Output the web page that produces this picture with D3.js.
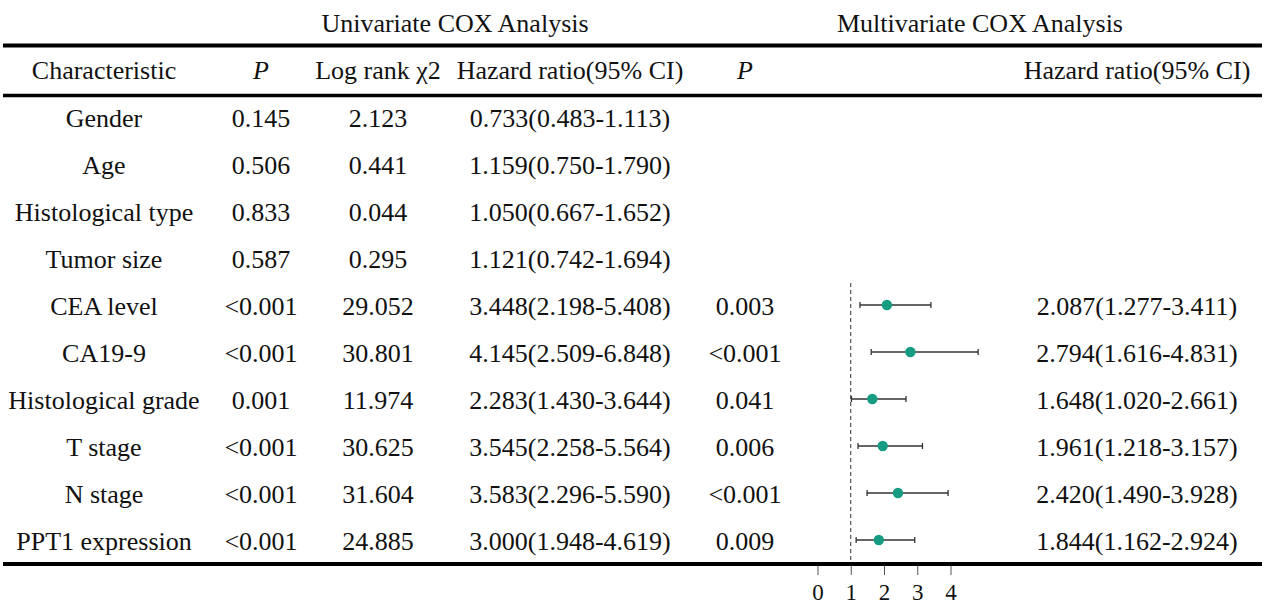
<!DOCTYPE html>
<html>
<head>
<meta charset="utf-8">
<script src="https://cdn.jsdelivr.net/npm/d3@7"></script>
<style>
  body { margin: 0; background: #fff; }
  text { font-family: "Liberation Serif", "Times New Roman", serif; fill: #111; }
</style>
</head>
<body>
<svg id="chart" width="1270" height="610"></svg>
<script>
// table data
var characteristics = ["Gender", "Age", "Histological type", "Tumor size", "CEA level",
  "CA19-9", "Histological grade", "T stage", "N stage", "PPT1 expression"];
var uniP = ["0.145", "0.506", "0.833", "0.587", "<0.001", "<0.001", "0.001", "<0.001", "<0.001", "<0.001"];
var logRank = ["2.123", "0.441", "0.044", "0.295", "29.052", "30.801", "11.974", "30.625", "31.604", "24.885"];
var uniHR = [0.733, 1.159, 1.050, 1.121, 3.448, 4.145, 2.283, 3.545, 3.583, 3.000];
var uniLo = [0.483, 0.750, 0.667, 0.742, 2.198, 2.509, 1.430, 2.258, 2.296, 1.948];
var uniHi = [1.113, 1.790, 1.652, 1.694, 5.408, 6.848, 3.644, 5.564, 5.590, 4.619];
var multiP = [null, null, null, null, "0.003", "<0.001", "0.041", "0.006", "<0.001", "0.009"];
var multiHR = [null, null, null, null, 2.087, 2.794, 1.648, 1.961, 2.420, 1.844];
var multiLo = [null, null, null, null, 1.277, 1.616, 1.020, 1.218, 1.490, 1.162];
var multiHi = [null, null, null, null, 3.411, 4.831, 2.661, 3.157, 3.928, 2.924];
var axisTicks = [0, 1, 2, 3, 4];

var svg = d3.select("#chart");
var fontSize = 26;

var fmt = d3.format(".3f");
function hrText(h, l, u) { return fmt(h) + "(" + fmt(l) + "-" + fmt(u) + ")"; }

var y = d3.scalePoint()
  .domain(characteristics)
  .range([118, 541]);

var x = d3.scaleLinear()
  .domain([0, 4])
  .range([817.5, 950.5]);

// column centers
var col = { ch: 104, p: 261, lr: 378, hr: 570, mp: 745, mhr: 1137 };

// titles
svg.append("text").attr("x", 455).attr("y", 32).attr("text-anchor", "middle")
  .attr("font-size", fontSize).text("Univariate COX Analysis");
svg.append("text").attr("x", 980).attr("y", 32).attr("text-anchor", "middle")
  .attr("font-size", fontSize).text("Multivariate COX Analysis");

// rules
svg.append("line").attr("x1", 3).attr("x2", 1262).attr("y1", 45.5).attr("y2", 45.5)
  .attr("stroke", "#000").attr("stroke-width", 4);
svg.append("line").attr("x1", 3).attr("x2", 1262).attr("y1", 95.5).attr("y2", 95.5)
  .attr("stroke", "#000").attr("stroke-width", 3.5);
svg.append("line").attr("x1", 3).attr("x2", 1262).attr("y1", 564).attr("y2", 564)
  .attr("stroke", "#000").attr("stroke-width", 4);

// header row
var headers = [
  {t: "Characteristic", x: col.ch},
  {t: "P", x: col.p, it: true},
  {t: "Log rank \u03c72", x: col.lr},
  {t: "Hazard ratio(95% CI)", x: col.hr},
  {t: "P", x: col.mp, it: true},
  {t: "Hazard ratio(95% CI)", x: col.mhr}
];
svg.selectAll("text.hdr").data(headers).enter().append("text")
  .attr("class", "hdr")
  .attr("x", function(d) { return d.x; })
  .attr("y", 79)
  .attr("text-anchor", "middle")
  .attr("font-size", fontSize)
  .attr("font-style", function(d) { return d.it ? "italic" : "normal"; })
  .text(function(d) { return d.t; });

// body rows
var rows = svg.selectAll("g.row").data(characteristics).enter().append("g")
  .attr("class", "row")
  .attr("transform", function(d) { return "translate(0," + (y(d) + 8.5) + ")"; });

rows.append("text").attr("x", col.ch).attr("text-anchor", "middle").attr("font-size", fontSize)
  .text(function(d) { return d; });
rows.append("text").attr("x", col.p).attr("text-anchor", "middle").attr("font-size", fontSize)
  .text(function(d, i) { return uniP[i]; });
rows.append("text").attr("x", col.lr).attr("text-anchor", "middle").attr("font-size", fontSize)
  .text(function(d, i) { return logRank[i]; });
rows.append("text").attr("x", col.hr).attr("text-anchor", "middle").attr("font-size", fontSize)
  .text(function(d, i) { return hrText(uniHR[i], uniLo[i], uniHi[i]); });
rows.filter(function(d, i) { return multiP[i] !== null; })
  .append("text").attr("x", col.mp).attr("text-anchor", "middle").attr("font-size", fontSize)
  .text(function(d) { return multiP[characteristics.indexOf(d)]; });
rows.filter(function(d, i) { return multiHR[i] !== null; })
  .append("text").attr("x", col.mhr).attr("text-anchor", "middle").attr("font-size", fontSize)
  .text(function(d) { var i = characteristics.indexOf(d); return hrText(multiHR[i], multiLo[i], multiHi[i]); });

// forest plot
svg.append("line")
  .attr("x1", x(1)).attr("x2", x(1))
  .attr("y1", 283).attr("y2", 562)
  .attr("stroke", "#333").attr("stroke-width", 1)
  .attr("stroke-dasharray", "4,3");

var forest = characteristics
  .map(function(c, i) { return {c: c, hr: multiHR[i], lo: multiLo[i], hi: multiHi[i]}; })
  .filter(function(d) { return d.hr !== null; });

var fg = svg.selectAll("g.ci").data(forest).enter().append("g").attr("class", "ci");
fg.append("line")
  .attr("x1", function(d) { return x(d.lo); })
  .attr("x2", function(d) { return x(d.hi); })
  .attr("y1", function(d) { return y(d.c) - 1; })
  .attr("y2", function(d) { return y(d.c) - 1; })
  .attr("stroke", "#333").attr("stroke-width", 1.3);
fg.append("line")
  .attr("x1", function(d) { return x(d.lo); })
  .attr("x2", function(d) { return x(d.lo); })
  .attr("y1", function(d) { return y(d.c) - 4; })
  .attr("y2", function(d) { return y(d.c) + 2; })
  .attr("stroke", "#333").attr("stroke-width", 1.3);
fg.append("line")
  .attr("x1", function(d) { return x(d.hi); })
  .attr("x2", function(d) { return x(d.hi); })
  .attr("y1", function(d) { return y(d.c) - 4; })
  .attr("y2", function(d) { return y(d.c) + 2; })
  .attr("stroke", "#333").attr("stroke-width", 1.3);
fg.append("circle")
  .attr("cx", function(d) { return x(d.hr); })
  .attr("cy", function(d) { return y(d.c) - 1; })
  .attr("r", 5.2)
  .attr("fill", "#169c82");

// axis
var axis = svg.append("g")
  .attr("transform", "translate(0,566)")
  .call(d3.axisBottom(x).tickValues(axisTicks).tickSize(9).tickFormat(d3.format("d")));
axis.select(".domain").remove();
axis.selectAll(".tick line").attr("stroke", "#555");
axis.selectAll(".tick text")
  .attr("font-size", 23)
  .attr("fill", "#111")
  .attr("dy", "0.6em")
  .attr("y", 20);
</script>
</body>
</html>
